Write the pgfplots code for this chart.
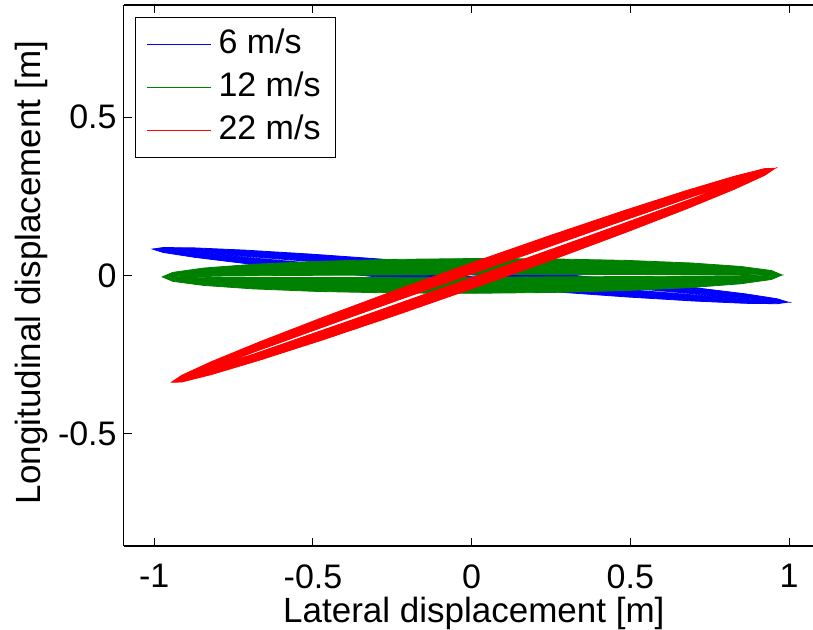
\documentclass[border=0pt]{standalone}
\usepackage{fontspec}
\setmainfont{Liberation Sans}
\usepackage{pgfplots}
\pgfplotsset{compat=1.18}
\definecolor{mblue}{rgb}{0,0,1}
\definecolor{mgreen}{rgb}{0,0.5,0}
\definecolor{mred}{rgb}{1,0,0}
\newcommand{\chartfont}{\fontsize{17}{20}\selectfont}
\newcommand{\labelfont}{\fontsize{17.5}{20}\selectfont}
\begin{document}
\begin{tikzpicture}
\begin{axis}[
  scale only axis, width=344.65pt, height=270.5pt,
  xmin=-1.0964, xmax=1.0756, ymin=-0.8566, ymax=0.8554,
  axis x line*=box, axis y line*=left,
  axis line style={line width=0.8pt, black},
  xtick={-1,-0.5,0,0.5,1}, xticklabels={-1,-0.5,0,0.5,1},
  ytick={-0.5,0,0.5}, yticklabels={-0.5,0,0.5},
  tick align=inside, major tick length=3.9pt,
  every tick/.style={black, line width=0.5pt},
  tick label style={font=\chartfont, inner sep=0pt},
  xticklabel style={anchor=north, yshift=-9pt},
  yticklabel style={anchor=east, xshift=-3.35pt},
  every axis x label/.style={at={(axis description cs:0.508,-0.1405)}, anchor=base, font=\labelfont},
  every axis y label/.style={at={(axis description cs:-0.1214,0.5055)}, anchor=base, rotate=90, font=\labelfont},
  xlabel={Lateral displacement [m]},
  ylabel={Longitudinal displacement [m]},
  legend cell align=left,
  legend style={at={(0.0164,0.9784)}, anchor=north west, draw=black, line width=0.6pt, fill=white,
    font=\chartfont, inner xsep=5.5pt, inner ysep=3.75pt, row sep=2pt,
    nodes={inner sep=2pt, text height=12.5pt, text depth=3pt}},
  legend image code/.code={\draw[#1,fill=none,line width=0.5pt] (0pt,0pt) -- (32pt,0pt); \path (33.5pt,0pt);},
]
% 6 m/s
\addplot[draw=mblue, fill=mblue, line width=0.4pt] coordinates {
(0.997,-0.085) (0.9629,-0.0743) (0.8628,-0.0587) (0.7037,-0.0392) (0.4963,-0.017) (0.2547,0.0063)
(-0.0045,0.029) (-0.2637,0.0497) (-0.5053,0.067) (-0.7127,0.0796) (-0.8718,0.0867) (-0.9719,0.0879)
(-1.006,0.083) (-0.9719,0.0723) (-0.8718,0.0567) (-0.7127,0.0372) (-0.5053,0.015) (-0.2637,-0.0083)
(-0.0045,-0.031) (0.2547,-0.0517) (0.4963,-0.069) (0.7037,-0.0816) (0.8628,-0.0887) (0.9629,-0.0899)
(0.997,-0.085)
(0.9455,-0.0808) (0.8182,-0.0716) (0.4705,-0.0435) (-0.0045,-0.004) (-0.4795,0.0363) (-0.8272,0.0666)
(-0.9545,0.0788) (-0.8272,0.0696) (-0.4795,0.0415) (-0.0045,0.002) (0.4705,-0.0383) (0.8182,-0.0686)
(0.9455,-0.0808)
} -- cycle;
\addlegendentry{6 m/s}
% 12 m/s
\addplot[draw=mgreen, fill=mgreen, line width=0.4pt] coordinates {
(0.978,0.001) (0.9447,0.0151) (0.8472,0.0281) (0.692,0.039) (0.4898,0.0471) (0.2542,0.0519)
(0.0015,0.053) (-0.2512,0.0503) (-0.4868,0.0441) (-0.689,0.0348) (-0.8442,0.0229) (-0.9417,0.0093)
(-0.975,-0.005) (-0.9417,-0.0191) (-0.8442,-0.0321) (-0.689,-0.043) (-0.4868,-0.0511) (-0.2512,-0.0559)
(0.0015,-0.057) (0.2542,-0.0543) (0.4898,-0.0481) (0.692,-0.0388) (0.8472,-0.0269) (0.9447,-0.0133)
(0.978,0.001)
(0.9615,0.001) (0.8329,-0.0014) (0.4815,-0.004) (0.0015,-0.006) (-0.4785,-0.007) (-0.8299,-0.0066)
(-0.9585,-0.005) (-0.8299,-0.0026) (-0.4785,0) (0.0015,0.002) (0.4815,0.003) (0.8329,0.0026)
(0.9615,0.001)
} -- cycle;
\addlegendentry{12 m/s}
% 22 m/s
\addplot[draw=mred, fill=mred, line width=0.4pt] coordinates {
(0.956,0.3386) (0.9236,0.3377) (0.8286,0.3137) (0.6775,0.2684) (0.4805,0.2048) (0.2511,0.1272)
(0.005,0.041) (-0.2411,-0.048) (-0.4705,-0.1338) (-0.6675,-0.2104) (-0.8186,-0.2727) (-0.9136,-0.3165)
(-0.946,-0.3386) (-0.9136,-0.3377) (-0.8186,-0.3137) (-0.6675,-0.2684) (-0.4705,-0.2048) (-0.2411,-0.1272)
(0.005,-0.041) (0.2511,0.048) (0.4805,0.1338) (0.6775,0.2104) (0.8286,0.2727) (0.9236,0.3165)
(0.956,0.3386)
(0.805,0.2848) (0.6978,0.2436) (0.405,0.1372) (0.005,-0.006) (-0.395,-0.1476) (-0.6878,-0.2496)
(-0.795,-0.2848) (-0.6878,-0.2436) (-0.395,-0.1372) (0.005,0.006) (0.405,0.1476) (0.6978,0.2496)
(0.805,0.2848)
} -- cycle;
\addlegendentry{22 m/s}
\end{axis}
\pgfresetboundingbox
\path[use as bounding box] (-61.85pt,-42pt) rectangle (344.65pt,273pt);
\end{tikzpicture}
\end{document}
